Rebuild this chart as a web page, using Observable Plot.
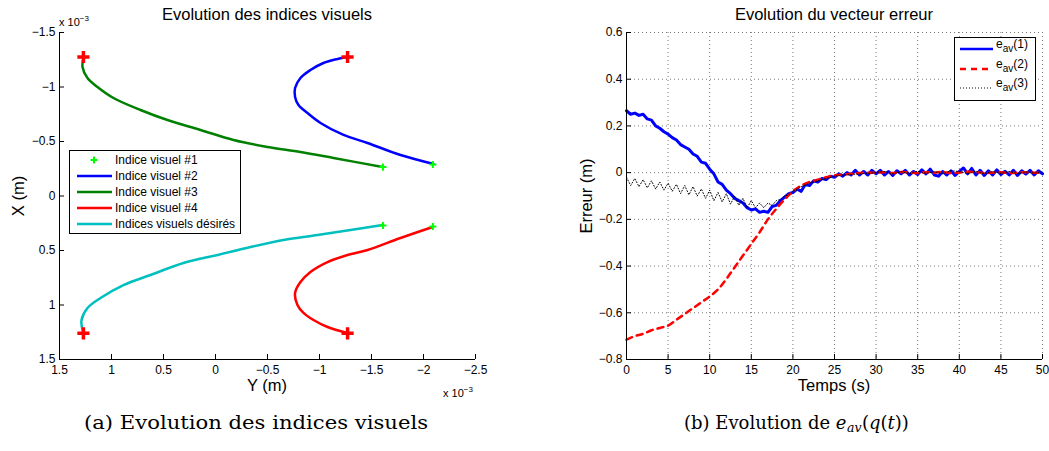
<!DOCTYPE html>
<html><head><meta charset="utf-8">
<script src="https://cdn.jsdelivr.net/npm/d3@7"></script>
<script src="https://cdn.jsdelivr.net/npm/@observablehq/plot@0.6"></script>
<style>
html,body{margin:0;padding:0;background:#fff;}
#wrap{position:relative;width:1049px;height:451px;background:#fff;overflow:hidden;font-family:"Liberation Sans",Arial,sans-serif;}
#left{position:absolute;left:0;top:0;}
#right{position:absolute;left:560px;top:0;}
#overlay{position:absolute;left:0;top:0;}
</style></head>
<body><div id="wrap"><div id="left"></div><div id="right"></div></div>
<script>
// ---------- Left chart data (units: x 10^-3 m) ----------
const blueY  = [-2.096,-1.779,-1.462,-1.231,-1.010,-0.885,-0.798,-0.765,-0.765,-0.817,-0.913,-1.038,-1.173,-1.269];
const blueX  = [-0.294,-0.376,-0.486,-0.560,-0.670,-0.761,-0.835,-0.908,-0.991,-1.083,-1.156,-1.220,-1.257,-1.275];
const greenY = [-1.606,-1.135,-0.817,-0.500,-0.173,0.144,0.462,0.721,0.981,1.135,1.231,1.279,1.269];
const greenX = [-0.266,-0.349,-0.404,-0.450,-0.514,-0.606,-0.697,-0.789,-0.899,-1.000,-1.083,-1.183,-1.266];
const redY   = [-2.087,-1.779,-1.462,-1.269,-1.077,-0.913,-0.817,-0.765,-0.788,-0.846,-0.942,-1.077,-1.269];
const redX   = [0.284,0.385,0.495,0.541,0.606,0.697,0.789,0.890,1.000,1.073,1.138,1.202,1.257];
const cyanY  = [-1.606,-1.298,-0.981,-0.654,-0.337,-0.019,0.308,0.625,0.885,1.106,1.231,1.288,1.279];
const cyanX  = [0.266,0.312,0.358,0.404,0.468,0.541,0.615,0.725,0.817,0.936,1.028,1.138,1.229];
const startY = [-2.09,-1.61,-2.09,-1.61];
const startX = [-0.29,-0.265,0.28,0.27];
const desY   = [-1.27,1.27,-1.27,1.27];
const desX   = [-1.275,-1.275,1.26,1.26];
const xTicksL = [1.5,1,0.5,0,-0.5,-1,-1.5,-2,-2.5];
const yTicksL = [-1.5,-1,-0.5,0,0.5,1,1.5];

// ---------- Right chart data ----------
const blueStep = 0.5;
const eav1 = [0.265,0.25,0.255,0.245,0.25,0.23,0.225,0.2,0.19,0.175,0.165,0.15,0.14,0.12,0.11,0.1,0.08,0.07,0.045,0.04,0.015,
 -0.005,-0.04,-0.05,-0.075,-0.09,-0.11,-0.12,-0.13,-0.15,-0.16,-0.155,-0.17,-0.165,-0.17,-0.145,-0.14,-0.12,-0.105,-0.09,-0.085,
 -0.07,-0.08,-0.05,-0.055,-0.035,-0.04,-0.025,-0.03,-0.015,-0.02,-0.005,-0.015,0,-0.01,0.01,-0.01,0.005,-0.01,0.01,-0.005,
 0.01,-0.01,0.005,-0.012,0.008,-0.005,0.01,-0.01,0.005,-0.008,0.012,-0.005,0.015,-0.01,-0.015,0.005,-0.01,0.008,-0.012,0.005,
 0.02,-0.005,0.018,-0.01,0.01,-0.012,0.008,-0.01,0.012,-0.008,0.006,-0.01,0.01,-0.012,0.008,-0.006,0.01,-0.01,0.008,-0.005];
const redStep = 1;
const eav2 = [-0.715,-0.7,-0.69,-0.675,-0.665,-0.655,-0.63,-0.605,-0.58,-0.555,-0.53,-0.5,-0.455,-0.405,-0.355,-0.305,-0.255,-0.2,-0.155,-0.115,
 -0.08,-0.055,-0.04,-0.03,-0.02,-0.012,-0.008,-0.005,-0.002,0,0,0.002,-0.002,0.003,0,-0.002,0.002,0,0.003,-0.002,0,0.004,0.002,-0.002,0,0.002,-0.002,0,0.002,0,0];
const eav3T = [...d3.range(0,20.5,0.5), ...d3.range(21,51)];
const eav3 = [-0.02,-0.055,-0.025,-0.06,-0.03,-0.065,-0.035,-0.07,-0.04,-0.075,-0.045,-0.08,-0.05,-0.09,-0.055,-0.095,-0.06,-0.1,-0.07,-0.11,
 -0.075,-0.12,-0.085,-0.125,-0.09,-0.135,-0.1,-0.14,-0.11,-0.15,-0.12,-0.15,-0.13,-0.15,-0.13,-0.14,-0.12,-0.115,-0.1,-0.095,-0.08,
 -0.06,-0.045,-0.035,-0.025,-0.015,-0.01,-0.008,-0.005,-0.003,0,0.005,-0.005,0.004,-0.004,0.006,-0.003,0.004,-0.005,0.008,0.005,
 -0.004,0.006,-0.005,0.004,-0.003,0.005,-0.004,0.003,-0.002,0.002];
const xTicksR = [0,5,10,15,20,25,30,35,40,45,50];
const yTicksR = [-0.8,-0.6,-0.4,-0.2,0,0.2,0.4,0.6];

const fmt = d => String(d).replace("-", "\u2212");
const pts = (Y, X) => Y.map((y, i) => ({y, x: X[i]}));
const font = '"Liberation Sans", Arial, sans-serif';

const left = Plot.plot({
  width: 530, height: 400,
  marginLeft: 59, marginRight: 55, marginTop: 32, marginBottom: 41,
  style: {fontFamily: font, fontSize: "12px", background: "transparent", color: "#000", overflow: "visible"},
  x: {domain: [xTicksL[0], xTicksL[xTicksL.length - 1]]},
  y: {domain: [yTicksL[0], yTicksL[yTicksL.length - 1]], reverse: true},
  marks: [
    Plot.line(pts(blueY, blueX), {x: "y", y: "x", stroke: "#0000ff", strokeWidth: 2.5, curve: "catmull-rom"}),
    Plot.line(pts(greenY, greenX), {x: "y", y: "x", stroke: "#008000", strokeWidth: 2.5, curve: "catmull-rom"}),
    Plot.line(pts(redY, redX), {x: "y", y: "x", stroke: "#ff0000", strokeWidth: 2.5, curve: "catmull-rom"}),
    Plot.line(pts(cyanY, cyanX), {x: "y", y: "x", stroke: "#00bfbf", strokeWidth: 2.5, curve: "catmull-rom"}),
    Plot.dot(pts(startY, startX), {x: "y", y: "x", symbol: "plus", r: 2.4, stroke: "#00ff00", strokeWidth: 2}),
    Plot.dot(pts(desY, desX), {x: "y", y: "x", symbol: "plus", r: 4, stroke: "#ff0000", strokeWidth: 3.5}),
    Plot.ruleX([xTicksL[0]], {stroke: "#000"}),
    Plot.ruleY([yTicksL[yTicksL.length - 1]], {stroke: "#000"}),
    Plot.axisX({ticks: xTicksL, tickFormat: fmt, tickSize: -5, tickPadding: 11, label: null, fontSize: 12}),
    Plot.axisY({ticks: yTicksL, tickFormat: fmt, tickSize: -5, tickPadding: 9, label: null, fontSize: 12})
  ]
});
document.getElementById("left").appendChild(left);

const ser = (vals, step) => vals.map((v, i) => ({t: i * step, v}));
const right = Plot.plot({
  width: 489, height: 400,
  marginLeft: 66, marginRight: 7, marginTop: 32, marginBottom: 41,
  style: {fontFamily: font, fontSize: "12px", background: "transparent", color: "#000", overflow: "visible"},
  x: {domain: [xTicksR[0], xTicksR[xTicksR.length - 1]]},
  y: {domain: [yTicksR[0], yTicksR[yTicksR.length - 1]]},
  marks: [
    Plot.gridX({ticks: xTicksR, stroke: "#555", strokeOpacity: 0.8, strokeDasharray: "1,3"}),
    Plot.gridY({ticks: yTicksR, stroke: "#555", strokeOpacity: 0.8, strokeDasharray: "1,3"}),
    Plot.line(ser(eav1, blueStep), {x: "t", y: "v", stroke: "#0000ff", strokeWidth: 3}),
    Plot.line(ser(eav2, redStep), {x: "t", y: "v", stroke: "#ff0000", strokeWidth: 2.5, strokeDasharray: "6,5", curve: "catmull-rom"}),
    Plot.line(eav3.map((v, i) => ({t: eav3T[i], v})), {x: "t", y: "v", stroke: "#000", strokeWidth: 1, strokeDasharray: "1,2"}),
    Plot.ruleX([xTicksR[0]], {stroke: "#000"}),
    Plot.ruleY([yTicksR[0]], {stroke: "#000"}),
    Plot.axisX({ticks: xTicksR, tickFormat: fmt, tickSize: -5, tickPadding: 11, label: null, fontSize: 12}),
    Plot.axisY({ticks: yTicksR, tickFormat: fmt, tickSize: -5, tickPadding: 9, label: null, fontSize: 12})
  ]
});
document.getElementById("right").appendChild(right);

// ---------- Overlay: titles, labels, legends, captions ----------
const ns = "http://www.w3.org/2000/svg";
const ov = document.createElementNS(ns, "svg");
ov.setAttribute("id", "overlay");
ov.setAttribute("width", 1049); ov.setAttribute("height", 451);
ov.innerHTML = `
<g font-family='"Liberation Sans", Arial, sans-serif' fill="#000">
  <text x="267" y="20" font-size="16.5" text-anchor="middle">Evolution des indices visuels</text>
  <text x="834" y="20" font-size="16.5" text-anchor="middle">Evolution du vecteur erreur</text>
  <text transform="translate(24,196) rotate(-90)" font-size="16.5" text-anchor="middle">X (m)</text>
  <text x="267" y="391" font-size="16.5" text-anchor="middle">Y (m)</text>
  <text transform="translate(592,196) rotate(-90)" font-size="16.5" text-anchor="middle">Erreur (m)</text>
  <text x="834" y="391" font-size="16.5" text-anchor="middle">Temps (s)</text>
  <text x="59" y="26" font-size="11">x 10<tspan font-size="8" dy="-5">\u22123</tspan></text>
  <text x="443" y="397" font-size="11">x 10<tspan font-size="8" dy="-5">\u22123</tspan></text>

  <rect x="69.5" y="150.5" width="171" height="83" fill="#fff" stroke="#000" stroke-width="1"/>
  <path d="M90.5,160H97.5M94,156.5V163.5" stroke="#00ff00" stroke-width="2"/>
  <line x1="77" x2="112" y1="176" y2="176" stroke="#0000ff" stroke-width="2.5"/>
  <line x1="77" x2="112" y1="192" y2="192" stroke="#008000" stroke-width="2.5"/>
  <line x1="77" x2="112" y1="208" y2="208" stroke="#ff0000" stroke-width="2.5"/>
  <line x1="77" x2="112" y1="224" y2="224" stroke="#00bfbf" stroke-width="2.5"/>
  <g font-size="12">
    <text x="115" y="164.3">Indice visuel #1</text>
    <text x="115" y="180.3">Indice visuel #2</text>
    <text x="115" y="196.3">Indice visuel #3</text>
    <text x="115" y="212.3">Indice visuel #4</text>
    <text x="115" y="228.3">Indices visuels désirés</text>
  </g>

  <rect x="954.5" y="37.5" width="81" height="63" fill="#fff" stroke="#000" stroke-width="1"/>
  <line x1="960" x2="993" y1="49" y2="49" stroke="#0000ff" stroke-width="2.5"/>
  <line x1="960" x2="993" y1="69" y2="69" stroke="#ff0000" stroke-width="2.5" stroke-dasharray="6,5"/>
  <line x1="960" x2="993" y1="88" y2="88" stroke="#000" stroke-width="1" stroke-dasharray="1,2"/>
  <g font-size="12">
    <text x="996" y="48">e<tspan font-size="10" dy="4">av</tspan><tspan dy="-4">(1)</tspan></text>
    <text x="996" y="68">e<tspan font-size="10" dy="4">av</tspan><tspan dy="-4">(2)</tspan></text>
    <text x="996" y="87">e<tspan font-size="10" dy="4">av</tspan><tspan dy="-4">(3)</tspan></text>
  </g>
</g>
<g font-family='"DejaVu Serif", "Liberation Serif", serif' fill="#000" font-size="18">
  <text x="84" y="429" textLength="344" lengthAdjust="spacingAndGlyphs">(a) Evolution des indices visuels</text>
  <text x="684" y="429">(b) Evolution de <tspan font-style="italic">e</tspan><tspan font-style="italic" font-size="12.5" dx="0.5" dy="3">av</tspan><tspan dx="0.5" dy="-3">(</tspan><tspan font-style="italic">q</tspan>(<tspan font-style="italic">t</tspan>))</text>
</g>`;
document.getElementById("wrap").appendChild(ov);
</script>
</body></html>
